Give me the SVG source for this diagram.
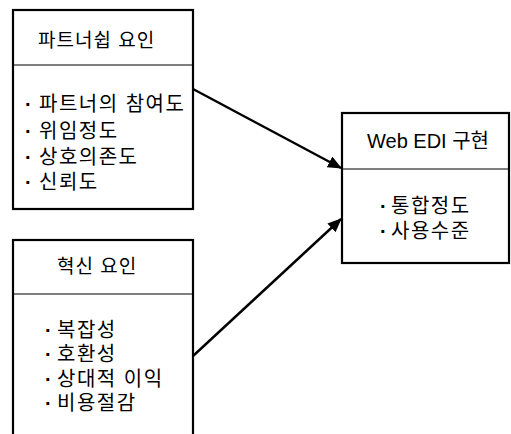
<svg xmlns="http://www.w3.org/2000/svg" width="511" height="434" viewBox="0 0 511 434">
<style>
.box{fill:#fff;stroke:#000;stroke-width:2.2}
.div{stroke:#000;stroke-width:1.2}
.t{font-family:"Liberation Sans","Noto Sans CJK KR",sans-serif;font-size:19px;fill:#000;letter-spacing:1px}
.b{font-family:"Liberation Sans","Noto Sans CJK KR",sans-serif;font-size:20px;fill:#000;letter-spacing:1.5px}
.w{font-family:"Liberation Sans","Noto Sans CJK KR",sans-serif;font-size:20px;fill:#000}
.d{font-weight:bold}
.conn{stroke:#000;stroke-width:2.4;fill:none}
</style>
<defs>
<marker id="ah" markerWidth="14" markerHeight="12" refX="13" refY="6" orient="auto" markerUnits="userSpaceOnUse">
<path d="M0,0 L14,6 L0,12 Z" fill="#000"/>
</marker>
</defs>
<rect width="511" height="434" fill="#fff"/>
<g id="partnership">
<rect class="box" x="13" y="10" width="180" height="199"/>
<line class="div" x1="13" y1="65" x2="193" y2="65"/>
<text class="t" x="38" y="47">파트너쉽 요인</text>
<text class="b" y="111"><tspan class="d" x="25">·</tspan><tspan x="39">파트너의 참여도</tspan></text>
<text class="b" y="138"><tspan class="d" x="25">·</tspan><tspan x="39">위임정도</tspan></text>
<text class="b" y="164"><tspan class="d" x="25">·</tspan><tspan x="39">상호의존도</tspan></text>
<text class="b" y="189"><tspan class="d" x="25">·</tspan><tspan x="39">신뢰도</tspan></text>
</g>
<g id="innovation">
<rect class="box" x="13" y="240" width="180" height="210"/>
<line class="div" x1="13" y1="294" x2="193" y2="294"/>
<text class="t" x="57" y="273">혁신 요인</text>
<text class="b" y="337"><tspan class="d" x="45">·</tspan><tspan x="57">복잡성</tspan></text>
<text class="b" y="361"><tspan class="d" x="45">·</tspan><tspan x="57">호환성</tspan></text>
<text class="b" y="386"><tspan class="d" x="45">·</tspan><tspan x="57">상대적 이익</tspan></text>
<text class="b" y="410"><tspan class="d" x="45">·</tspan><tspan x="57">비용절감</tspan></text>
</g>
<g id="webedi">
<rect class="box" x="342" y="113" width="167" height="150"/>
<line class="div" x1="342" y1="169" x2="509" y2="169"/>
<text class="w" x="367" y="148">Web EDI 구현</text>
<text class="b" y="213"><tspan class="d" x="380">·</tspan><tspan x="391">통합정도</tspan></text>
<text class="b" y="238"><tspan class="d" x="380">·</tspan><tspan x="391">사용수준</tspan></text>
</g>
<g id="connectors">
<line class="conn" x1="193" y1="89" x2="341" y2="168" marker-end="url(#ah)"/>
<line class="conn" x1="193" y1="356" x2="341" y2="219" marker-end="url(#ah)"/>
</g>
</svg>
